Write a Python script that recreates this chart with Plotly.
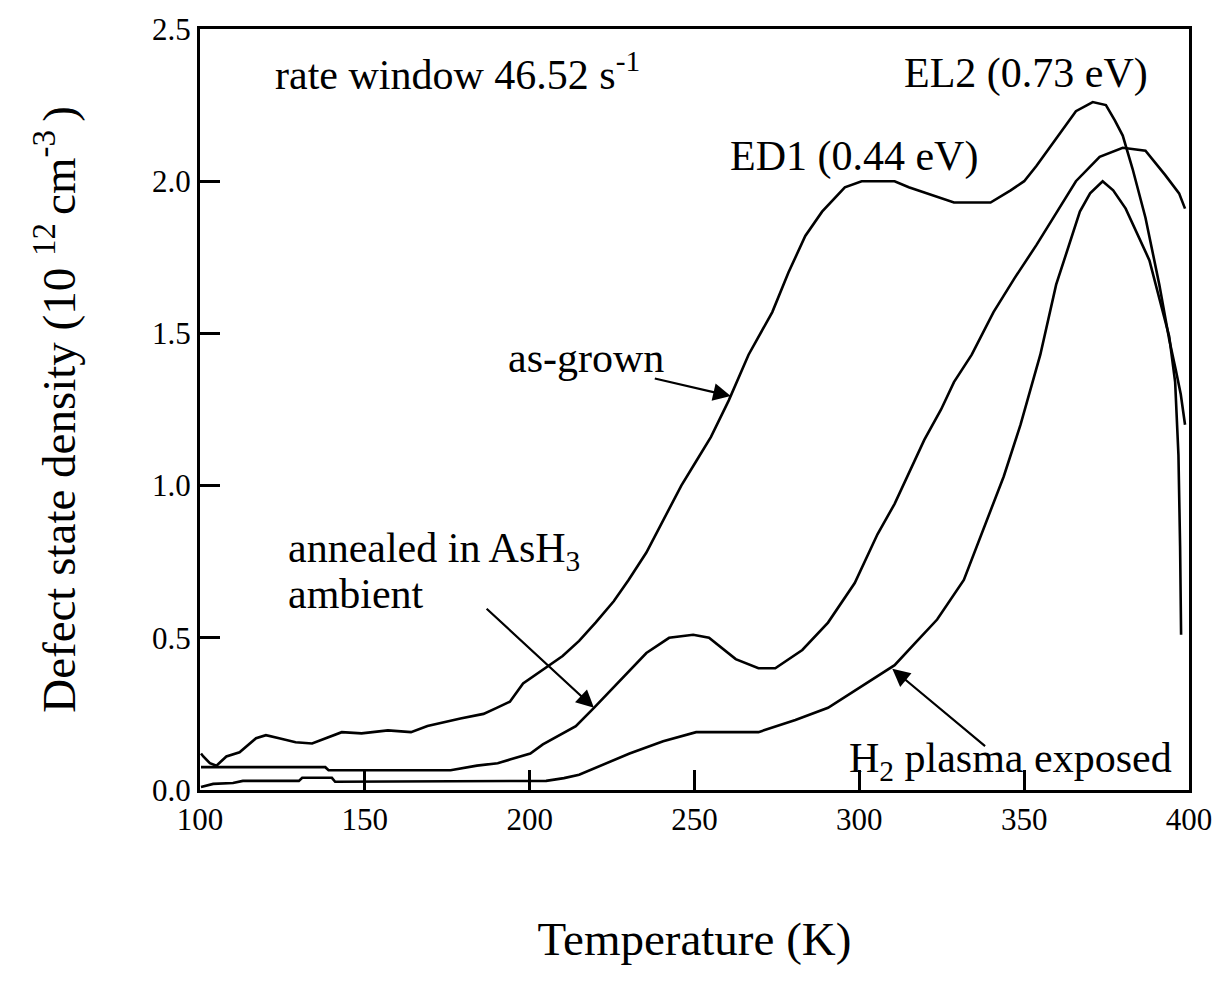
import plotly.graph_objects as go

# ---- data ----
asgrown_T = [100.3, 101, 103, 105, 108, 112, 117, 120, 124, 129, 134, 139, 143, 149, 157, 164, 169, 179, 186, 190,
             194, 198, 202, 205, 210, 215, 220, 225.5, 230, 235.4, 242.3, 246, 250.5, 255, 260.4, 266.4, 273.6, 278.5,
             283.6, 288.7, 295.6, 300.7, 306.7, 310.7, 315, 320.6, 328.7, 334, 339.8, 345.9, 350, 353.7, 360.9, 365.7,
             370.8, 374.8, 377.5, 379.9, 382.9, 386.8, 391, 394, 396, 397.5, 398.8]
asgrown_y = [0.12, 0.11, 0.088, 0.08, 0.11, 0.124, 0.17, 0.18, 0.17, 0.157, 0.153, 0.173, 0.19, 0.186, 0.196, 0.19, 0.21,
             0.235, 0.25, 0.27, 0.29, 0.35, 0.38, 0.40, 0.44, 0.49, 0.55, 0.62, 0.69, 0.78, 0.92, 1.0, 1.08, 1.16, 1.28,
             1.43, 1.57, 1.70, 1.82, 1.90, 1.98, 2.0, 2.0, 2.0, 1.98, 1.96, 1.93, 1.93, 1.93, 1.97, 2.0, 2.05, 2.16, 2.23,
             2.26, 2.25, 2.20, 2.15, 2.04, 1.88, 1.66, 1.48, 1.38, 1.30, 1.20]

annealed_T = [100.3, 138, 139, 176, 184, 190.3, 194, 200.2, 204, 210.4, 214, 219.5, 227.3, 235.4, 242.3, 249.6, 254.4,
              262.5, 269.4, 274.5, 282.7, 290.5, 298.6, 305.5, 310.7, 314.6, 319.7, 324.8, 328.7, 334.1, 340.7, 347,
              353.7, 360, 365.7, 372.9, 379.9, 386.8, 392.8, 397, 398.8]
annealed_y = [0.075, 0.075, 0.065, 0.065, 0.08, 0.088, 0.10, 0.12, 0.15, 0.19, 0.21, 0.27, 0.36, 0.45, 0.50, 0.51, 0.50,
              0.43, 0.40, 0.40, 0.46, 0.55, 0.68, 0.84, 0.94, 1.03, 1.15, 1.25, 1.34, 1.43, 1.57, 1.68, 1.79, 1.90, 2.0,
              2.08, 2.11, 2.10, 2.02, 1.96, 1.91]

h2_T = [100.3, 104, 110, 113, 130, 131, 140, 141, 205, 210.4, 215, 220.4, 230.3, 240.5, 250.5, 269.4, 280.6, 290.5,
        300.7, 310.7, 316.7, 323.6, 331.7, 337.7, 343.8, 348.9, 354.9, 359.7, 366.9, 370, 373.8, 377, 380.8, 388, 394,
        395.8, 396.8, 397.3, 397.6]
h2_y = [0.01, 0.02, 0.023, 0.03, 0.03, 0.04, 0.04, 0.027, 0.03, 0.039, 0.05, 0.075, 0.12, 0.16, 0.19, 0.19, 0.23, 0.27,
        0.34, 0.41, 0.48, 0.56, 0.69, 0.86, 1.03, 1.20, 1.43, 1.66, 1.90, 1.96, 2.0, 1.97, 1.91, 1.74, 1.49, 1.34, 1.1,
        0.8, 0.51]

x_ticks = [100, 150, 200, 250, 300, 350, 400]
y_ticks = [0.0, 0.5, 1.0, 1.5, 2.0, 2.5]

FONT = "Liberation Serif, Times New Roman, serif"
LW = 2.6

fig = go.Figure()
for name, xs, ys in [("as-grown", asgrown_T, asgrown_y),
                     ("annealed in AsH3 ambient", annealed_T, annealed_y),
                     ("H2 plasma exposed", h2_T, h2_y)]:
    fig.add_trace(go.Scatter(x=xs, y=ys, mode="lines", name=name,
                             line=dict(color="black", width=LW), showlegend=False))

ann_font = dict(family=FONT, size=42, color="black")
annotations = [
    dict(x=122, y=2.36, text="rate window 46.52 s<sup>-1</sup>", showarrow=False,
         xanchor="left", yanchor="middle", font=ann_font),
    dict(x=312.8, y=2.355, text="EL2 (0.73 eV)", showarrow=False,
         xanchor="left", yanchor="middle", font=ann_font),
    dict(x=260.1, y=2.08, text="ED1 (0.44 eV)", showarrow=False,
         xanchor="left", yanchor="middle", font=ann_font),
    dict(x=192.7, y=1.42, text="as-grown", showarrow=False,
         xanchor="left", yanchor="middle", font=ann_font),
    dict(x=126.2, y=0.785, text="annealed in AsH<sub>3</sub>", showarrow=False,
         xanchor="left", yanchor="middle", font=ann_font),
    dict(x=126.2, y=0.645, text="ambient", showarrow=False,
         xanchor="left", yanchor="middle", font=ann_font),
    dict(x=296.2, y=0.095, text="H<sub>2</sub> plasma exposed", showarrow=False,
         xanchor="left", yanchor="middle", font=ann_font),
    # arrows
    dict(x=261, y=1.294, ax=237.5, ay=1.353, axref="x", ayref="y", xref="x", yref="y",
         text="", showarrow=True, arrowhead=2, arrowsize=1.6, arrowwidth=2.2, arrowcolor="black"),
    dict(x=219.5, y=0.27, ax=186.5, ay=0.60, axref="x", ayref="y", xref="x", yref="y",
         text="", showarrow=True, arrowhead=2, arrowsize=1.6, arrowwidth=2.2, arrowcolor="black"),
    dict(x=310, y=0.398, ax=338.6, ay=0.14, axref="x", ayref="y", xref="x", yref="y",
         text="", showarrow=True, arrowhead=2, arrowsize=1.6, arrowwidth=2.2, arrowcolor="black"),
]

fig.update_layout(
    width=1224, height=1003,
    margin=dict(l=200, r=27, t=23, b=213),
    paper_bgcolor="white", plot_bgcolor="white",
    font=dict(family=FONT, color="black"),
    annotations=annotations,
    showlegend=False,
)
fig.update_xaxes(
    range=[100, 400], tickvals=x_ticks, ticktext=[str(v) for v in x_ticks],
    ticks="inside", ticklen=20, tickwidth=2.5, tickcolor="black",
    showline=True, linewidth=3, linecolor="black", mirror=True,
    showgrid=False, zeroline=False,
    tickfont=dict(family=FONT, size=31, color="black"),
    title=dict(text="Temperature (K)", font=dict(family=FONT, size=47, color="black"), standoff=86),
)
fig.update_yaxes(
    range=[0, 2.5], tickvals=y_ticks, ticktext=[f"{v:.1f}" for v in y_ticks],
    ticks="inside", ticklen=20, tickwidth=2.5, tickcolor="black",
    showline=True, linewidth=3, linecolor="black", mirror=True,
    showgrid=False, zeroline=False,
    tickfont=dict(family=FONT, size=31, color="black"),
    title=dict(text="Defect state density (10 <sup>12 </sup>cm<sup>-3 </sup>)",
               font=dict(family=FONT, size=47, color="black"), standoff=62),
)

fig.write_html("out.html")
